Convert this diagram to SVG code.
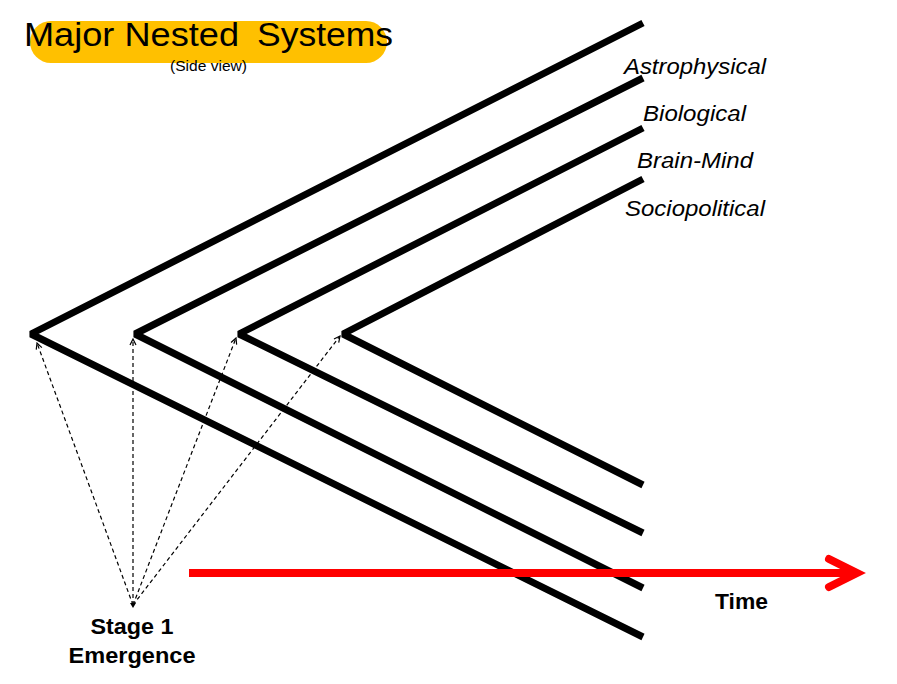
<svg xmlns="http://www.w3.org/2000/svg" width="897" height="684" viewBox="0 0 897 684">
  <defs>
    <marker id="openArrow" viewBox="0 0 8 8" refX="7" refY="4" markerWidth="8" markerHeight="8" markerUnits="userSpaceOnUse" orient="auto">
      <path d="M1,1 L7,4 L1,7" fill="none" stroke="#000" stroke-width="1.2"/>
    </marker>
  </defs>
  <style>
    .chev { fill: none; stroke: #000; stroke-width: 7; stroke-linejoin: miter; stroke-miterlimit: 2; stroke-linecap: butt; }
    .dash { fill: none; stroke: #000; stroke-width: 1.2; stroke-dasharray: 4 3; marker-end: url(#openArrow); }
    .label { font-family: "Liberation Sans", Arial, sans-serif; font-style: italic; font-size: 22px; fill: #000; }
    .bold { font-family: "Liberation Sans", Arial, sans-serif; font-weight: bold; font-size: 22px; fill: #000; }
  </style>
  <rect width="897" height="684" fill="#fff"/>

  <g id="title">
    <rect x="30" y="21" width="357" height="42" rx="21" ry="21" fill="#FFC000"/>
    <text y="46" font-family="Liberation Sans, Arial, sans-serif" font-size="34" fill="#000"><tspan x="24" textLength="215" lengthAdjust="spacingAndGlyphs">Major Nested</tspan> <tspan x="257" textLength="136" lengthAdjust="spacingAndGlyphs">Systems</tspan></text>
    <text x="170" y="71" font-family="Liberation Sans, Arial, sans-serif" font-size="14" textLength="77" lengthAdjust="spacingAndGlyphs" fill="#000">(Side view)</text>
  </g>

  <g id="astrophysical">
    <polyline class="chev" points="643,23 31,334 643,637"/>
    <text class="label" x="624" y="74" textLength="142" lengthAdjust="spacingAndGlyphs">Astrophysical</text>
  </g>
  <g id="biological">
    <polyline class="chev" points="643,78 135,334 643,588"/>
    <text class="label" x="643" y="121" textLength="103" lengthAdjust="spacingAndGlyphs">Biological</text>
  </g>
  <g id="brain-mind">
    <polyline class="chev" points="643,128 239,334 643,533"/>
    <text class="label" x="637" y="168" textLength="116" lengthAdjust="spacingAndGlyphs">Brain-Mind</text>
  </g>
  <g id="sociopolitical">
    <polyline class="chev" points="643,179 343,334 643,485"/>
    <text class="label" x="625" y="216" textLength="140" lengthAdjust="spacingAndGlyphs">Sociopolitical</text>
  </g>

  <g id="stage1">
    <text class="bold" x="132" y="634" text-anchor="middle" textLength="83" lengthAdjust="spacingAndGlyphs">Stage 1</text>
    <text class="bold" x="132" y="663" text-anchor="middle" textLength="127" lengthAdjust="spacingAndGlyphs">Emergence</text>
  </g>

  <g id="time">
    <line x1="189" y1="573" x2="855" y2="573" stroke="#FF0000" stroke-width="8"/>
    <polyline points="829,559 857,573 829,587" fill="none" stroke="#FF0000" stroke-width="8" stroke-linecap="round" stroke-linejoin="miter"/>
    <text class="bold" x="715" y="609" textLength="53" lengthAdjust="spacingAndGlyphs">Time</text>
  </g>

  <g id="connectors">
    <line class="dash" x1="133" y1="605" x2="37" y2="343"/>
    <line class="dash" x1="133" y1="605" x2="133" y2="339"/>
    <line class="dash" x1="133" y1="605" x2="236" y2="338"/>
    <line class="dash" x1="133" y1="605" x2="340" y2="336"/>
    <path d="M130,603 L136,603 L133,608 Z" fill="#000"/>
  </g>
</svg>
